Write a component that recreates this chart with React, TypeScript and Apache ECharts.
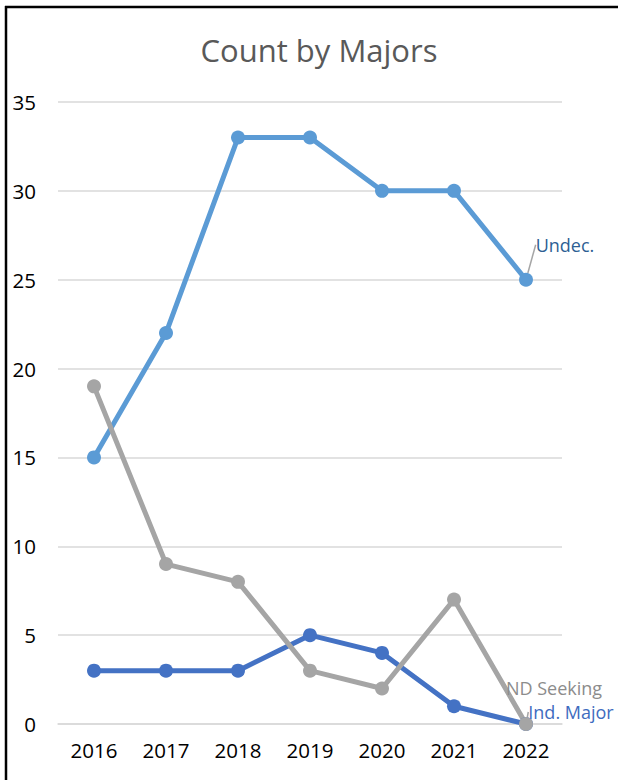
import React, { useEffect, useRef } from "react";
import * as echarts from "echarts";

const years = ["2016", "2017", "2018", "2019", "2020", "2021", "2022"];
const undecided = [15, 22, 33, 33, 30, 30, 25];
const indMajor = [3, 3, 3, 5, 4, 1, 0];
const ndSeeking = [19, 9, 8, 3, 2, 7, 0];
const yTicks = { min: 0, max: 35, interval: 5 };

const FONT = "'Open Sans', 'Noto Sans', sans-serif";

function withEndLabel(
  values: number[],
  name: string,
  color: string,
  dx: number,
  dy: number,
  showLine: boolean
) {
  return values.map((v, i) =>
    i === values.length - 1
      ? {
          value: v,
          label: {
            show: true,
            formatter: name,
            position: "inside",
            color,
            fontSize: 18,
            lineHeight: 19,
            fontFamily: FONT,
          },
          labelLayout: { dx, dy },
          labelLine: {
            show: showLine,
            lineStyle: { color: "#A5A5A5", width: 1.5 },
          },
        }
      : v
  );
}

export default function App() {
  const ref = useRef<HTMLDivElement>(null);
  useEffect(() => {
    if (!ref.current) return;
    const chart = echarts.init(ref.current, undefined, { renderer: "svg" });
    const lineSeries = (
      name: string,
      data: any[],
      color: string,
      labelColor: string,
      dx: number,
      dy: number,
      showLine: boolean
    ) => ({
      name,
      type: "line",
      data: withEndLabel(data as number[], name, labelColor, dx, dy, showLine),
      symbol: "circle",
      symbolSize: 14,
      itemStyle: { color },
      lineStyle: { color, width: 5 },
      label: { show: false },
      labelLayout: { dx, dy },
      labelLine: { show: showLine, lineStyle: { color: "#A5A5A5", width: 1.5 } },
    });
    chart.setOption({
      animation: false,
      backgroundColor: "#ffffff",
      title: {
        text: "Count by Majors",
        left: 314,
        textAlign: "center",
        top: 29,
        textStyle: {
          color: "#595959",
          fontSize: 31,
          fontWeight: "normal",
          fontFamily: FONT,
        },
      },
      grid: { left: 58, right: 56, top: 102, bottom: 56, containLabel: false },
      xAxis: {
        type: "category",
        data: years,
        boundaryGap: true,
        axisLine: { show: true, lineStyle: { color: "#D9D9D9", width: 1.5 } },
        axisTick: { show: false },
        axisLabel: {
          color: "#000000",
          fontSize: 20.5,
          fontFamily: FONT,
          margin: 15,
        },
      },
      yAxis: {
        type: "value",
        min: yTicks.min,
        max: yTicks.max,
        interval: yTicks.interval,
        axisLine: { show: false },
        axisTick: { show: false },
        splitLine: { lineStyle: { color: "#D9D9D9", width: 1.5 } },
        axisLabel: {
          color: "#000000",
          fontSize: 20.5,
          fontFamily: FONT,
          margin: 22,
        },
      },
      series: [
        lineSeries("Undec.", undecided, "#5B9BD5", "#2E5F94", 39, -35, true),
        lineSeries("Ind. Major", indMajor, "#4472C4", "#3E6CC0", 45, -12, true),
        lineSeries("ND Seeking", ndSeeking, "#A5A5A5", "#8C8C8C", 28, -36, false),
      ],
      graphic: [
        {
          type: "line",
          shape: { x1: 5, y1: 7, x2: 618, y2: 7 },
          style: { stroke: "#000000", lineWidth: 2.5 },
          z: 100,
        },
        {
          type: "line",
          shape: { x1: 6, y1: 6, x2: 6, y2: 780 },
          style: { stroke: "#000000", lineWidth: 2.5 },
          z: 100,
        },
      ],
    });
    return () => chart.dispose();
  }, []);
  return (
    <div
      ref={ref}
      style={{ position: "absolute", left: 0, top: 0, width: 618, height: 780 }}
    />
  );
}
